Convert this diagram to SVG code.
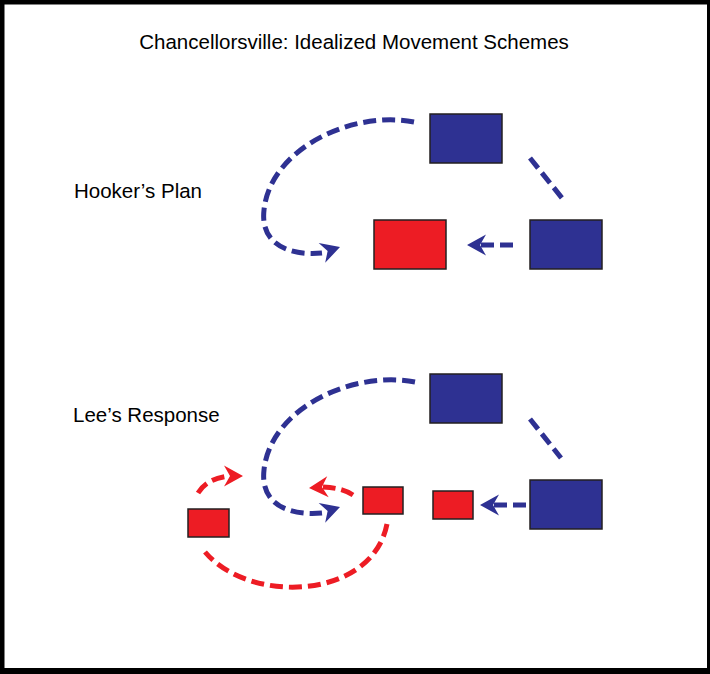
<svg xmlns="http://www.w3.org/2000/svg" width="710" height="674" viewBox="0 0 710 674">
<style>
text{font-family:"Liberation Sans",Arial,sans-serif;font-size:20.5px;fill:#000}
.blue{fill:#2E3192;stroke:#231F20;stroke-width:1.5}
.red{fill:#ED1C24;stroke:#231F20;stroke-width:1.5}
.db{fill:none;stroke:#2E3192;stroke-width:5;stroke-dasharray:13 6}
.dr{fill:none;stroke:#ED1C24;stroke-width:5;stroke-dasharray:13 6}
.hb{fill:#2E3192}
.hr{fill:#ED1C24}
</style>
<defs>
<path id="ah" d="M0,0 L-19,-10.5 L-13,0 L-19,10.5 Z"/>
</defs>
<rect x="0" y="0" width="710" height="674" fill="#000"/>
<rect x="4.5" y="4.5" width="702.5" height="663.5" fill="#fff"/>
<text x="354" y="49" text-anchor="middle">Chancellorsville: Idealized Movement Schemes</text>
<text x="74" y="198">Hooker’s Plan</text>
<text x="73" y="422">Lee’s Response</text>
<g id="connectors">
<path class="db" d="M414,122 C350,110 270,150 264,210 C260,245 290,256 322,253"/>
<use href="#ah" class="hb" transform="translate(340,247) rotate(-18)"/>
<path class="db" d="M530,158 L562,198"/>
<path class="db" d="M513,245 L481,245"/>
<use href="#ah" class="hb" transform="translate(467,245) rotate(180)"/>
<path class="db" d="M415,382 C350,370 270,410 264,470 C260,505 290,516 322,513"/>
<use href="#ah" class="hb" transform="translate(340,507) rotate(-18)"/>
<path class="db" d="M530,419 L561,458"/>
<path class="db" d="M526,505 L494,505"/>
<use href="#ah" class="hb" transform="translate(480,505) rotate(180)"/>
<path class="dr" d="M198,493 C205,482 215,478 229,476"/>
<use href="#ah" class="hr" transform="translate(243,476) rotate(0)"/>
<path class="dr" d="M353,495 C345,490 338,488 323,487"/>
<use href="#ah" class="hr" transform="translate(309,488) rotate(176)"/>
<path class="dr" d="M387,524 C372,600 250,605 205,552"/>
</g>
<g id="hooker-top"><rect class="blue" x="430" y="114" width="72" height="49"/></g>
<g id="hooker-right"><rect class="blue" x="530" y="220" width="72" height="49"/></g>
<g id="lee-plan"><rect class="red" x="374" y="220" width="72" height="49"/></g>
<g id="hooker-top-2"><rect class="blue" x="430" y="374" width="72" height="49"/></g>
<g id="hooker-right-2"><rect class="blue" x="530" y="480" width="72" height="49"/></g>
<g id="lee-mid"><rect class="red" x="363" y="487" width="40" height="27"/></g>
<g id="lee-right"><rect class="red" x="433" y="491" width="40" height="28"/></g>
<g id="lee-left"><rect class="red" x="188" y="509" width="41" height="28"/></g>
</svg>
